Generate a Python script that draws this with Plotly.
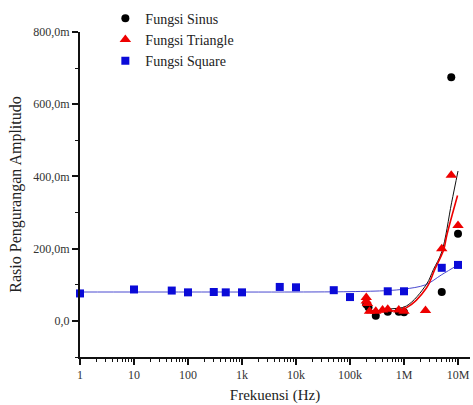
import plotly.graph_objects as go

# Measured amplitude-reduction ratios (unitless) versus frequency (Hz)
sinus_freq = [2.0e5, 2.2e5, 3.0e5, 5.0e5, 8.0e5, 1.0e6, 5.0e6, 7.5e6, 1.0e7]
sinus_val = [0.046, 0.038, 0.014, 0.025, 0.025, 0.024, 0.080, 0.675, 0.241]

tri_freq = [2.0e5, 2.0e5, 2.1e5, 2.3e5, 3.0e5, 4.0e5, 5.0e5, 8.0e5, 1.0e6, 2.5e6, 5.0e6, 7.5e6, 1.0e7]
tri_val = [0.065, 0.055, 0.048, 0.027, 0.027, 0.030, 0.032, 0.030, 0.027, 0.029, 0.200, 0.403, 0.264]

sq_freq = [1, 10, 50, 100, 300, 500, 1e3, 5e3, 1e4, 5e4, 1e5, 5e5, 1e6, 5e6, 1e7]
sq_val = [0.076, 0.087, 0.084, 0.079, 0.080, 0.079, 0.079, 0.094, 0.093, 0.085, 0.066, 0.082, 0.082, 0.147, 0.155]

# Fitted trend curves
sinus_fit_freq = [2.0e5, 3.0e5, 5.5e5, 1.1e6, 2.6e6, 3.5e6, 5.0e6, 7.6e6, 1.0e7]
sinus_fit_val = [0.030, 0.028, 0.033, 0.041, 0.101, 0.142, 0.191, 0.327, 0.415]

tri_fit_freq = [2.0e5, 3.0e5, 5.5e5, 1.1e6, 2.6e6, 3.7e6, 5.4e6, 6.2e6, 9.8e6]
tri_fit_val = [0.023, 0.024, 0.027, 0.036, 0.091, 0.142, 0.196, 0.237, 0.347]

sq_fit_freq = [1, 1e2, 1e4, 1e5, 5e5, 1e6, 2.5e6, 5e6, 1e7]
sq_fit_val = [0.080, 0.080, 0.080, 0.081, 0.084, 0.088, 0.100, 0.128, 0.155]

x_tickvals = [1, 10, 100, 1e3, 1e4, 1e5, 1e6, 1e7]
x_ticktext = ["1", "10", "100", "1k", "10k", "100k", "1M", "10M"]
y_tickvals = [0, 0.2, 0.4, 0.6, 0.8]
y_ticktext = ["0,0", "200,0m", "400,0m", "600,0m", "800,0m"]
y_minorvals = [-0.1, 0.1, 0.3, 0.5, 0.7]

x_minorvals = [m * 10 ** d for d in range(0, 8) for m in range(2, 10) if m * 10 ** d < 1.6e7]

RED = "#ee0000"
BLUE = "#0a0ad8"
FONT = "Liberation Serif"

fig = go.Figure()

# fit lines (no legend entries)
fig.add_trace(go.Scatter(x=sq_fit_freq, y=sq_fit_val, mode="lines",
                         line=dict(color="#4a4ad0", width=1, shape="spline"),
                         showlegend=False, hoverinfo="skip"))
fig.add_trace(go.Scatter(x=sinus_fit_freq, y=sinus_fit_val, mode="lines",
                         line=dict(color="#111111", width=1, shape="spline"),
                         showlegend=False, hoverinfo="skip"))
fig.add_trace(go.Scatter(x=tri_fit_freq, y=tri_fit_val, mode="lines",
                         line=dict(color=RED, width=1.6, shape="spline"),
                         showlegend=False, hoverinfo="skip"))

# data points
fig.add_trace(go.Scatter(x=sinus_freq, y=sinus_val, mode="markers", name="Fungsi Sinus",
                         marker=dict(symbol="circle", size=8, color="black"),
                         cliponaxis=False))
fig.add_trace(go.Scatter(x=tri_freq, y=tri_val, mode="markers", name="Fungsi Triangle",
                         marker=dict(symbol="triangle-up", size=10, color=RED),
                         cliponaxis=False))
fig.add_trace(go.Scatter(x=sq_freq, y=sq_val, mode="markers", name="Fungsi Square",
                         marker=dict(symbol="square", size=8, color=BLUE),
                         cliponaxis=False))

fig.update_layout(
    width=473, height=405,
    margin=dict(l=80, r=3, t=27, b=48),
    paper_bgcolor="white", plot_bgcolor="white",
    font=dict(family=FONT, color="#222222"),
    showlegend=True,
    legend=dict(x=0.065, y=1.09, xanchor="left", yanchor="top",
                bgcolor="rgba(0,0,0,0)", font=dict(size=14, family=FONT, color="#222222"),
                tracegroupgap=0, itemsizing="trace"),
    xaxis=dict(
        type="log", range=[0, 7.222],
        tickmode="array", tickvals=x_tickvals, ticktext=x_ticktext,
        ticks="outside", ticklen=6, tickwidth=1.5, tickcolor="#111111",
        showgrid=False, zeroline=False,
        showline=True, linecolor="#111111", linewidth=2,
        tickfont=dict(size=12, family=FONT, color="#333333"),
        title=dict(text="Frekuensi (Hz)", font=dict(size=15, family=FONT, color="#222222"), standoff=8),
        minor=dict(tickmode="array", tickvals=x_minorvals, ticks="outside", ticklen=3,
                   tickwidth=1, tickcolor="#111111", showgrid=False),
    ),
    yaxis=dict(
        range=[-0.1, 0.8],
        tickmode="array", tickvals=y_tickvals, ticktext=y_ticktext,
        ticks="outside", ticklen=6, tickwidth=1.5, tickcolor="#111111",
        showgrid=False, zeroline=False,
        showline=True, linecolor="#111111", linewidth=2,
        tickfont=dict(size=12, family=FONT, color="#333333"),
        title=dict(text="Rasio Pengurangan Amplitudo", font=dict(size=16, family=FONT, color="#222222"), standoff=8),
        minor=dict(tickmode="array", tickvals=y_minorvals, ticks="outside", ticklen=3,
                   tickwidth=1, tickcolor="#111111", showgrid=False),
    ),
)

fig.write_html("out.html")
